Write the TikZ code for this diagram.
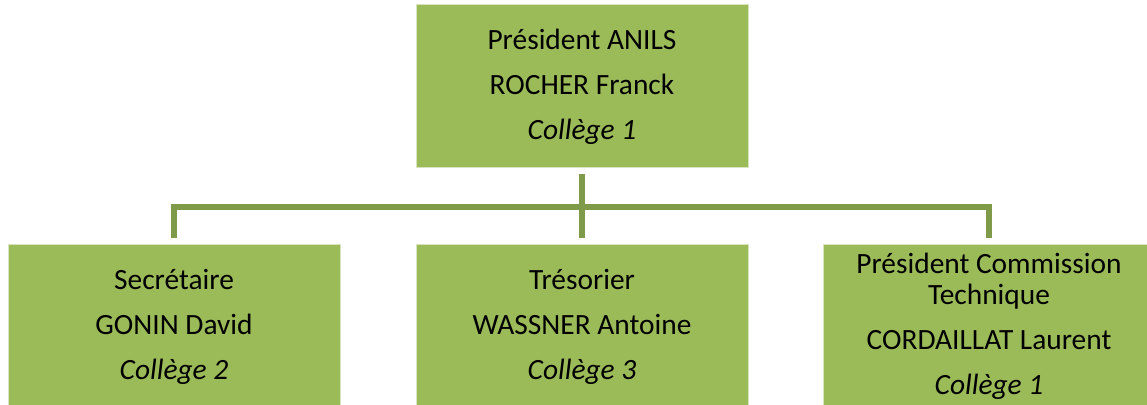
\documentclass[tikz,border=0pt]{standalone}
\usepackage{fontspec}
\setmainfont{Carlito}
\definecolor{boxgreen}{HTML}{9BBB59}
\definecolor{linegreen}{HTML}{7F9A48}
\tikzset{
  orgbox/.style={draw=white!60!boxgreen, line width=0.5pt, fill=boxgreen, minimum width=166pt, minimum height=81.5pt,
    inner sep=0pt, align=center, text=black, font=\fontsize{14.7}{15.5}\selectfont},
  conn/.style={draw=linegreen, line width=2.6pt, line join=miter}
}
\begin{document}
\begin{tikzpicture}[x=0.5pt,y=-0.5pt]
\useasboundingbox (0,0) rectangle (1147,405);
\clip (0,0) rectangle (1147,405);
\node[orgbox] (top) at (582,86.5) {Président ANILS\\[7pt]ROCHER Franck\\[7pt]\textit{Collège 1}};
\node[orgbox] (sec) at (174,326.5) {Secrétaire\\[7pt]GONIN David\\[7pt]\textit{Collège 2}};
\node[orgbox] (tres) at (582,326.5) {Trésorier\\[7pt]WASSNER Antoine\\[7pt]\textit{Collège 3}};
\node[orgbox] (pct) at (989,326.5) {Président Commission\\Technique\\[7pt]CORDAILLAT Laurent\\[7pt]\textit{Collège 1}};
\coordinate (bar) at (0,207);
\draw[conn] ([yshift=-3pt]top.south) -- (top.south |- bar) -- ([yshift=3pt]tres.north);
\draw[conn] ([yshift=3pt]sec.north) -- (sec.north |- bar) -- (pct.north |- bar) -- ([yshift=3pt]pct.north);
\end{tikzpicture}
\end{document}
